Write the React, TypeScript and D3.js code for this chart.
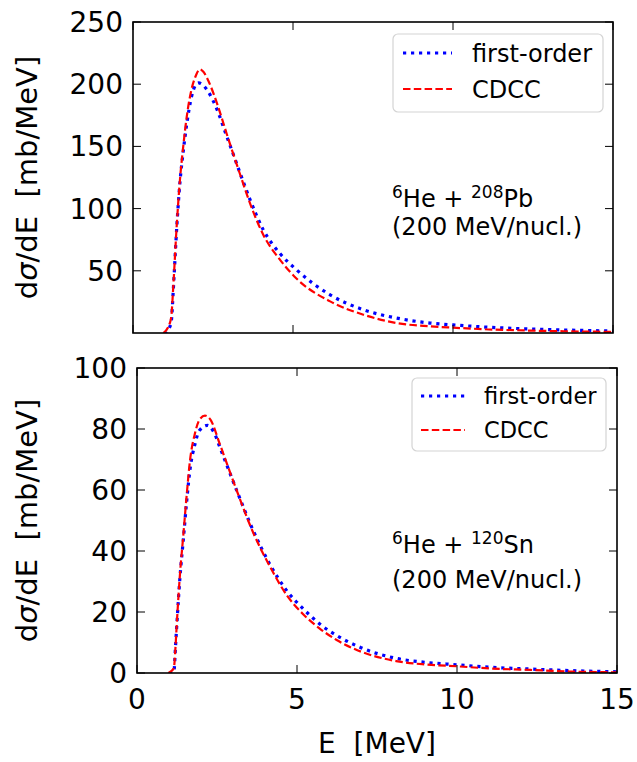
import React from "react";
import * as d3 from "d3";

const W = 637;
const H = 762;

const xTicks = [0, 5, 10, 15];
const topYTicks = [50, 100, 150, 200, 250];
const botYTicks = [0, 20, 40, 60, 80, 100];

// Top panel: 6He + 208Pb
const topFirstOrderE = [1.0, 1.08, 1.12, 1.2, 1.26, 1.37, 1.47, 1.57, 1.68, 1.83, 1.95, 2.05, 2.2, 2.35, 2.62, 2.93, 3.03, 3.34, 3.66, 4.07, 4.59, 5.1, 6.16, 7.2, 8.24, 9.28, 10, 11, 12, 13, 14, 15];
const topFirstOrderV = [0, 0, 3, 10, 35, 86, 122, 146, 168, 190, 199, 201, 199, 194, 180, 158, 151, 129, 107, 83, 64, 51, 30.7, 18.7, 12, 8, 6.5, 4.8, 3.6, 2.7, 2.1, 1.6];
const topCdccE = [0.95, 1.15, 1.2, 1.26, 1.37, 1.47, 1.57, 1.68, 1.83, 1.95, 2.09, 2.2, 2.35, 2.62, 2.93, 3.03, 3.34, 3.66, 4.07, 4.59, 5.1, 6.16, 7.2, 8.24, 9.28, 10, 11, 12, 13, 14, 15];
const topCdccV = [0, 8, 14, 38, 88, 124, 150, 174, 196, 206, 212, 210, 203, 185, 160, 152, 128, 104, 79, 59, 44, 25.4, 14.7, 8, 5.4, 4.3, 3, 2.2, 1.6, 1.2, 0.9];

// Bottom panel: 6He + 120Sn
const botFirstOrderE = [1.0, 1.12, 1.16, 1.2, 1.24, 1.34, 1.45, 1.55, 1.66, 1.81, 1.95, 2.2, 2.4, 2.59, 3.11, 3.64, 4.16, 4.68, 5.2, 5.72, 6.24, 7.0, 8.1, 9, 10, 11, 12.3, 13.5, 15];
const botFirstOrderV = [0, 0, 1, 8, 15, 31, 44, 56, 67, 75, 79.5, 81.2, 79, 74, 60, 46.5, 35.5, 27, 21, 16, 12.3, 8.3, 4.8, 3.5, 2.7, 1.9, 1.3, 0.8, 0.4];
const botCdccE = [0.98, 1.15, 1.2, 1.24, 1.34, 1.45, 1.55, 1.66, 1.81, 1.95, 2.125, 2.3, 2.59, 3.11, 3.64, 4.16, 4.68, 5.2, 5.72, 6.24, 7.0, 8.1, 9, 10, 11, 12.3, 13.5, 15];
const botCdccV = [0, 1.5, 8, 15.5, 32, 45.5, 58, 70, 78.5, 83, 84.4, 83, 75, 60, 45.8, 34.8, 25.5, 19.2, 14.5, 10.8, 7.0, 3.9, 2.8, 2.2, 1.5, 1, 0.5, 0.2];

const seriesNames = ["first-order", "CDCC"];

const FONT = "DejaVu Sans";
const BLUE = "#0000ff";
const RED = "#ff0000";

type Pt = [number, number];
const zip = (a: number[], b: number[]): Pt[] => a.map((v, i) => [v, b[i]] as Pt);

function Panel(props: {
  left: number; top: number; width: number; height: number;
  yMax: number; yTicks: number[]; showXLabels: boolean;
  blue: Pt[]; red: Pt[];
  legend: { x: number; y: number; w: number; h: number; fs: number; lineX1: number; lineX2: number; row1: number; row2: number; textX: number };
  ann: { x: number; y1: number; y2: number; target: string };
}) {
  const { left, top, width, height, yMax, yTicks, showXLabels, blue, red, legend, ann } = props;
  const x = d3.scaleLinear().domain([0, 15]).range([left, left + width]);
  const y = d3.scaleLinear().domain([0, yMax]).range([top + height, top]);
  const line = d3.line<Pt>().x(d => x(d[0])).y(d => y(d[1])).curve(d3.curveMonotoneX);
  const tl = 8;
  return (
    <g>
      <defs>
        <clipPath id={`clip${top}`}>
          <rect x={left} y={top} width={width} height={height} />
        </clipPath>
      </defs>
      <g clipPath={`url(#clip${top})`}>
        <path d={line(blue) || ""} fill="none" stroke={BLUE} strokeWidth={3.2} strokeDasharray="3.2,4.8" />
        <path d={line(red) || ""} fill="none" stroke={RED} strokeWidth={2.2} strokeDasharray="7.5,3.3" />
      </g>
      {xTicks.map(t => (
        <g key={"xt" + t}>
          <line x1={x(t)} x2={x(t)} y1={top + height} y2={top + height - tl} stroke="#000" strokeWidth={1} />
          <line x1={x(t)} x2={x(t)} y1={top} y2={top + tl} stroke="#000" strokeWidth={1} />
          {showXLabels && (
            <text x={x(t)} y={top + height + 36} textAnchor="middle" fontFamily={FONT} fontSize={28} fill="#000">{t}</text>
          )}
        </g>
      ))}
      {yTicks.map(t => (
        <g key={"yt" + t}>
          <line x1={left} x2={left + tl} y1={y(t)} y2={y(t)} stroke="#000" strokeWidth={1} />
          <line x1={left + width} x2={left + width - tl} y1={y(t)} y2={y(t)} stroke="#000" strokeWidth={1} />
          <text x={left - 10} y={y(t)} dy="0.36em" textAnchor="end" fontFamily={FONT} fontSize={28} fill="#000">{t}</text>
        </g>
      ))}
      <rect x={left} y={top} width={width} height={height} fill="none" stroke="#000" strokeWidth={1.6} />
      <text transform={`translate(37,${top + height / 2}) rotate(-90)`} textAnchor="middle" fontFamily={FONT} fontSize={29} fill="#000">
        d<tspan fontStyle="italic">σ</tspan>/dE{"\u00a0\u00a0"}[mb/MeV]
      </text>
      <rect x={legend.x} y={legend.y} width={legend.w} height={legend.h} rx={5} fill="#fff" fillOpacity={0.8} stroke="#d4d4d4" strokeWidth={1.2} />
      <line x1={legend.lineX1} x2={legend.lineX2} y1={legend.row1} y2={legend.row1} stroke={BLUE} strokeWidth={3.2} strokeDasharray="3.2,4.8" />
      <text x={legend.textX} y={legend.row1} dy="0.36em" fontFamily={FONT} fontSize={legend.fs} fill="#000">{seriesNames[0]}</text>
      <line x1={legend.lineX1} x2={legend.lineX2} y1={legend.row2} y2={legend.row2} stroke={RED} strokeWidth={2.2} strokeDasharray="7.5,3.3" />
      <text x={legend.textX} y={legend.row2} dy="0.36em" fontFamily={FONT} fontSize={legend.fs} fill="#000">{seriesNames[1]}</text>
      <text x={ann.x} y={ann.y1} fontFamily={FONT} fontSize={24} fill="#000">
        <tspan fontSize={17} dy="-9">6</tspan>
        <tspan dy="9">He + </tspan>
        <tspan fontSize={17} dy="-9">{ann.target.split("|")[0]}</tspan>
        <tspan dy="9">{ann.target.split("|")[1]}</tspan>
      </text>
      <text x={ann.x} y={ann.y2} fontFamily={FONT} fontSize={24} fill="#000">(200 MeV/nucl.)</text>
    </g>
  );
}

export default function App() {
  return (
    <svg width={W} height={H} style={{ display: "block", position: "absolute", left: 0, top: 0 }}>
      <rect x={0} y={0} width={W} height={H} fill="#fff" />
      <Panel
        left={133} top={22} width={480} height={311} yMax={250} yTicks={topYTicks} showXLabels={false}
        blue={zip(topFirstOrderE, topFirstOrderV)} red={zip(topCdccE, topCdccV)}
        legend={{ x: 393, y: 34, w: 210, h: 78, fs: 24, lineX1: 403, lineX2: 452, row1: 53, row2: 89, textX: 472 }}
        ann={{ x: 392, y1: 207, y2: 235, target: "208|Pb" }}
      />
      <Panel
        left={137} top={368} width={480} height={305} yMax={100} yTicks={botYTicks} showXLabels={true}
        blue={zip(botFirstOrderE, botFirstOrderV)} red={zip(botCdccE, botCdccV)}
        legend={{ x: 412, y: 378, w: 194, h: 73, fs: 22.5, lineX1: 421, lineX2: 465, row1: 396, row2: 430, textX: 484 }}
        ann={{ x: 392, y1: 553, y2: 588, target: "120|Sn" }}
      />
      <text x={377} y={753} textAnchor="middle" fontFamily={FONT} fontSize={28} fill="#000">E{"\u00a0\u00a0"}[MeV]</text>
    </svg>
  );
}
